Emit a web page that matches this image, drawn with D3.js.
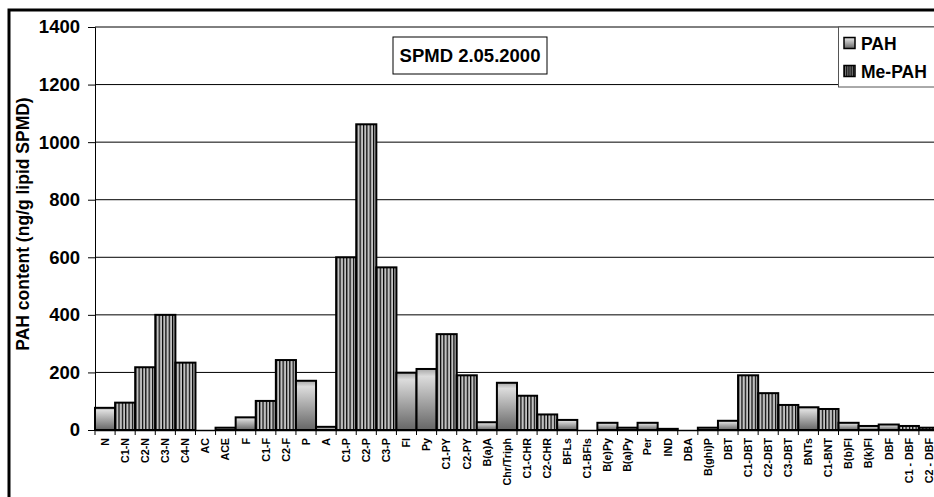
<!DOCTYPE html>
<html>
<head>
<meta charset="utf-8">
<script src="https://cdn.jsdelivr.net/npm/d3@7"></script>
<style>
  body { margin: 0; background: #fff; }
  text { font-family: "Liberation Sans", Arial, sans-serif; font-weight: bold; }
</style>
</head>
<body>
<svg id="canvas" width="934" height="497"></svg>
<script>
"use strict"

const categories = ["N", "C1-N", "C2-N", "C3-N", "C4-N", "AC", "ACE", "F", "C1-F", "C2-F",
  "P", "A", "C1-P", "C2-P", "C3-P", "Fl", "Py", "C1-PY", "C2-PY", "B(a)A",
  "Chr/Triph", "C1-CHR", "C2-CHR", "BFLs", "C1-BFls", "B(e)Py", "B(a)Py", "Per", "IND", "DBA",
  "B(ghi)P", "DBT", "C1-DBT", "C2-DBT", "C3-DBT", "BNTs", "C1-BNT", "B(b)Fl", "B(k)Fl", "DBF",
  "C1 - DBF", "C2 - DBF"]

// ng/g lipid SPMD
const values = [77, 95, 218, 400, 234, 0, 8, 44, 101, 243,
  171, 11, 600, 1062, 565, 199, 212, 333, 190, 27,
  164, 119, 54, 35, 0, 25, 8, 25, 4, 0,
  8, 32, 190, 128, 87, 79, 73, 25, 14, 19,
  14, 8]

// "PAH" = parent compound, "Me" = alkylated (Me-PAH)
const groups = ["PAH", "Me", "Me", "Me", "Me", "PAH", "PAH", "PAH", "Me", "Me",
  "PAH", "PAH", "Me", "Me", "Me", "PAH", "PAH", "Me", "Me", "PAH",
  "PAH", "Me", "Me", "PAH", "Me", "PAH", "PAH", "PAH", "PAH", "PAH",
  "PAH", "PAH", "Me", "Me", "Me", "PAH", "Me", "PAH", "PAH", "PAH",
  "Me", "Me"]

const yTicks = [0, 200, 400, 600, 800, 1000, 1200, 1400]
const legendItems = [["PAH", "PAH"], ["Me", "Me-PAH"]]

const plotLeft = 95, plotRight = 939, plotTop = 27, plotBottom = 430

const svg = d3.select("#canvas")

const defs = svg.append("defs")
const grad = defs.append("linearGradient")
  .attr("id", "pahGrad").attr("x1", 0).attr("y1", 0).attr("x2", 0).attr("y2", 1)
grad.append("stop").attr("offset", "0%").attr("stop-color", "#a8a8a8")
grad.append("stop").attr("offset", "12%").attr("stop-color", "#dcdcdc")
grad.append("stop").attr("offset", "100%").attr("stop-color", "#666")

const pat = defs.append("pattern")
  .attr("id", "meStripes")
  .attr("patternUnits", "objectBoundingBox")
  .attr("width", 1 / 6).attr("height", 1)
pat.append("rect").attr("width", 40).attr("height", 2000).attr("fill", "#c2c2c2")
pat.append("rect").attr("width", 1.2).attr("height", 2000).attr("fill", "#000")

const x = d3.scaleBand().domain(categories).range([plotLeft, plotRight]).padding(0)
const y = d3.scaleLinear().domain([0, 1400]).range([plotBottom, plotTop])

// outer chart border
svg.append("path")
  .attr("d", `M9,497 V10 H940`)
  .attr("fill", "none").attr("stroke", "#000").attr("stroke-width", 3)

// gridlines
svg.append("g")
  .selectAll("line")
  .data(yTicks.filter(t => t > 0))
  .enter().append("line")
    .attr("x1", plotLeft).attr("x2", plotRight)
    .attr("y1", t => y(t)).attr("y2", t => y(t))
    .attr("stroke", "#000").attr("stroke-width", 1)

// bars
svg.append("g")
  .selectAll("rect")
  .data(categories.filter((c, i) => values[i] > 0))
  .enter().append("rect")
    .attr("x", c => x(c))
    .attr("width", x.bandwidth())
    .attr("y", c => y(values[categories.indexOf(c)]))
    .attr("height", c => plotBottom - y(values[categories.indexOf(c)]))
    .attr("fill", c => groups[categories.indexOf(c)] === "PAH" ? "url(#pahGrad)" : "url(#meStripes)")
    .attr("stroke", "#000").attr("stroke-width", 2)

// y axis
const yAxis = svg.append("g")
  .attr("transform", `translate(${plotLeft},0)`)
  .call(d3.axisLeft(y).tickValues(yTicks).tickFormat(d3.format("d")).tickSize(7).tickPadding(8))
yAxis.select(".domain").attr("stroke", "#000").attr("stroke-width", 1)
yAxis.selectAll(".tick line").attr("stroke", "#000")
yAxis.selectAll("text")
  .style("font-size", "18.5px").style("font-weight", "bold")
  .style("font-family", "'Liberation Sans', Arial, sans-serif").attr("fill", "#000")

// x axis
const xAxis = svg.append("g")
  .attr("transform", `translate(0,${plotBottom})`)
  .call(d3.axisBottom(x).tickSize(0).tickFormat(""))
xAxis.select(".domain").attr("stroke", "#000").attr("stroke-width", 1.5)

svg.append("g")
  .selectAll("line")
  .data(d3.range(categories.length + 1))
  .enter().append("line")
    .attr("x1", i => plotLeft + i * x.step()).attr("x2", i => plotLeft + i * x.step())
    .attr("y1", plotBottom).attr("y2", plotBottom + 5)
    .attr("stroke", "#000")

svg.append("g")
  .selectAll("text")
  .data(categories)
  .enter().append("text")
    .attr("transform", c => `translate(${x(c) + x.bandwidth() / 2 + 3.8},438) rotate(-90)`)
    .attr("text-anchor", "end")
    .style("font-size", "10.7px")
    .text(c => c)

// y axis title
svg.append("text")
  .attr("transform", "translate(29,224) rotate(-90)")
  .attr("text-anchor", "middle")
  .style("font-size", "17.5px")
  .text("PAH content (ng/g lipid SPMD)")

// title box
svg.append("rect")
  .attr("x", 393).attr("y", 37).attr("width", 154).attr("height", 37)
  .attr("fill", "#fff").attr("stroke", "#000").attr("stroke-width", 1)
svg.append("text")
  .attr("x", 470).attr("y", 62)
  .attr("text-anchor", "middle")
  .style("font-size", "18.5px")
  .text("SPMD 2.05.2000")

// legend
const legend = svg.append("g")
legend.append("rect")
  .attr("x", 838.5).attr("y", 27).attr("width", 110).attr("height", 60)
  .attr("fill", "#fff").attr("stroke", "#555").attr("stroke-width", 1)
legendItems.forEach((item, i) => {
  legend.append("rect")
    .attr("x", 844).attr("y", 37.5 + i * 28).attr("width", 11).attr("height", 11)
    .attr("fill", item[0] === "PAH" ? "url(#pahGrad)" : "url(#meStripes)")
    .attr("stroke", "#000").attr("stroke-width", 1.5)
  legend.append("text")
    .attr("x", 861).attr("y", 49.5 + i * 28)
    .style("font-size", "17.5px")
    .text(item[1])
})
</script>
</body>
</html>
